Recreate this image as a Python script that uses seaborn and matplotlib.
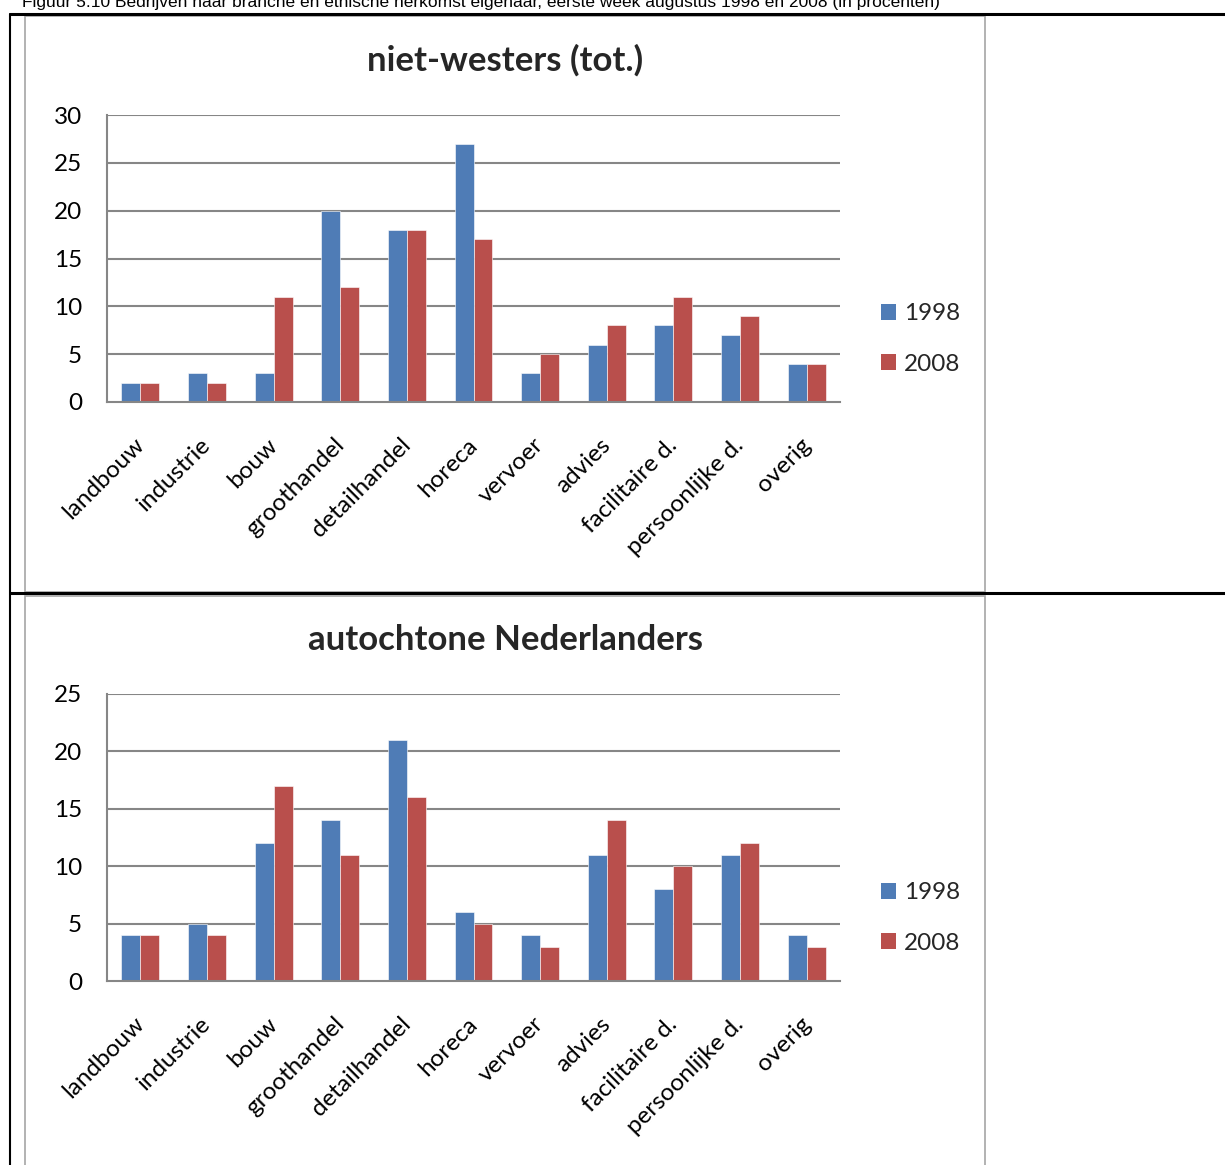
import matplotlib
matplotlib.use("Agg")
import matplotlib.pyplot as plt
import matplotlib.transforms as mtrans
import seaborn as sns
import pandas as pd
from matplotlib.patches import Rectangle
from matplotlib.lines import Line2D

categories = ["landbouw", "industrie", "bouw", "groothandel", "detailhandel", "horeca",
              "vervoer", "advies", "facilitaire d.", "persoonlijke d.", "overig"]
years = ["1998", "2008"]
nw_1998 = [2, 3, 3, 20, 18, 27, 3, 6, 8, 7, 4]
nw_2008 = [2, 2, 11, 12, 18, 17, 5, 8, 11, 9, 4]
au_1998 = [4, 5, 12, 14, 21, 6, 4, 11, 8, 11, 4]
au_2008 = [4, 4, 17, 11, 16, 5, 3, 14, 10, 12, 3]
titles = ["niet-westers (tot.)", "autochtone Nederlanders"]
yticks_1 = [0, 5, 10, 15, 20, 25, 30]
yticks_2 = [0, 5, 10, 15, 20, 25]
header = "Figuur 5.10 Bedrijven naar branche en etnische herkomst eigenaar, eerste week augustus 1998 en 2008 (in procenten)"

sns.set_theme(style="white")
plt.rcParams['font.family'] = ['Lato', 'DejaVu Sans']

W, H = 1225, 1165
fig = plt.figure(figsize=(W / 100, H / 100), dpi=100)

def fx(px):
    return px / W

def fy(py):
    return 1 - py / H

palette = {"1998": "#4F7CB6", "2008": "#B94F4C"}
grid_c = "#868686"

# table lines (black)
fig.add_artist(Line2D([fx(10), 1], [fy(14), fy(14)], color="black", lw=2.2, transform=fig.transFigure))
fig.add_artist(Line2D([fx(10), 1], [fy(593), fy(593)], color="black", lw=2.2, transform=fig.transFigure))
fig.add_artist(Line2D([fx(10), fx(10)], [fy(14), 0], color="black", lw=1.5, transform=fig.transFigure))

# chart frames
fig.add_artist(Rectangle((fx(25), fy(592)), fx(985) - fx(25), fy(16) - fy(592), fill=False,
                         edgecolor="#A6A6A6", lw=1.2, transform=fig.transFigure))
fig.add_artist(Rectangle((fx(25), fy(1170)), fx(985) - fx(25), fy(596) - fy(1170), fill=False,
                         edgecolor="#A6A6A6", lw=1.2, transform=fig.transFigure))

fig.text(fx(22), fy(3), header, fontsize=12.5, family=['Liberation Sans Narrow', 'Liberation Sans', 'DejaVu Sans'],
         ha='left', va='center', color='black')

panels = [
    (nw_1998, nw_2008, yticks_1, titles[0], 115, 402, 60, 339),
    (au_1998, au_2008, yticks_2, titles[1], 694, 981, 640, 918),
]

offset = mtrans.ScaledTranslation(-0.07, -0.10, fig.dpi_scale_trans)

for v98, v08, yt, title, top, bot, ty, ly in panels:
    df = pd.DataFrame({
        "branche": categories * 2,
        "jaar": [years[0]] * len(categories) + [years[1]] * len(categories),
        "waarde": v98 + v08,
    })
    ax = fig.add_axes([fx(107), fy(bot), fx(840) - fx(107), fy(top) - fy(bot)])
    sns.barplot(data=df, x="branche", y="waarde", hue="jaar", palette=palette, ax=ax,
                width=0.57, gap=0, edgecolor="white", linewidth=0.4, saturation=1, errorbar=None)
    ax.set_ylim(yt[0], yt[-1])
    ax.set_yticks(yt)
    ax.set_xlim(-0.5, len(categories) - 0.5)
    for y in yt[1:]:
        ax.axhline(y, color=grid_c, lw=1.5, zorder=0)
    for s in ["top", "right"]:
        ax.spines[s].set_visible(False)
    for s in ["left", "bottom"]:
        ax.spines[s].set_color(grid_c)
        ax.spines[s].set_linewidth(1.5)
    ax.set_xlabel("")
    ax.set_ylabel("")
    ax.tick_params(axis='y', length=0, pad=18, labelsize=17.5, labelcolor='black')
    ax.tick_params(axis='x', length=0, pad=16, labelsize=17.5, labelcolor='black')
    ax.set_xticks(range(len(categories)))
    ax.set_xticklabels(categories, rotation=45, ha='right', rotation_mode='anchor')
    for lab in ax.get_xticklabels():
        lab.set_transform(lab.get_transform() + offset)
    ax.legend_.remove()
    handles = [Rectangle((0, 0), 1, 1, facecolor=palette[y], edgecolor='none') for y in years]
    fig.legend(handles, years, loc='center left', bbox_to_anchor=(fx(881), fy(ly)),
               frameon=False, fontsize=17.5, handlelength=0.6, handleheight=0.6,
               handletextpad=0.35, labelspacing=1.2, borderpad=0, borderaxespad=0)
    fig.text(fx(505), fy(ty), title, fontsize=25, fontweight='bold', ha='center', va='center')

fig.savefig("out.png", dpi=100)
